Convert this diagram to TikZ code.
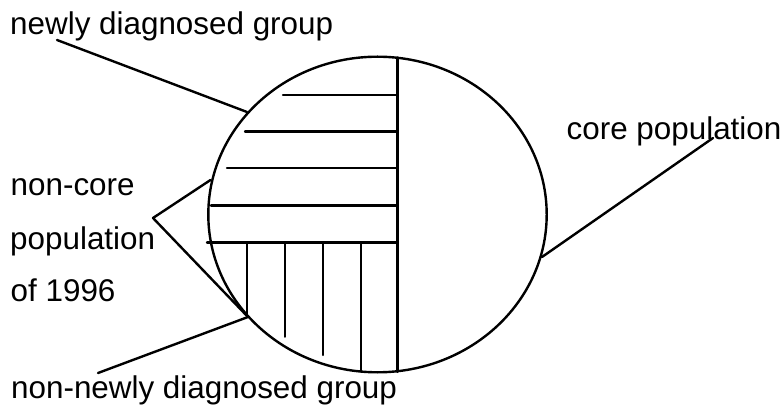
\documentclass[tikz,border=0pt]{standalone}
\usepackage{fontspec}
\setmainfont{Liberation Sans}
\usetikzlibrary{shapes.geometric}
\begin{document}
\begin{tikzpicture}[x=1pt,y=-1pt,
  ln/.style={line width=2.4pt,line cap=round,line join=round},
  lbl/.style={inner sep=0pt,anchor=base west,font=\fontsize{31.4}{37}\selectfont}]
\useasboundingbox (0,0) rectangle (784,419);
% pie
\node[ellipse,draw,line width=2.4pt,minimum width=338.4pt,minimum height=315.6pt,inner sep=0pt] (pie) at (377.5,214.5) {};
\coordinate (top) at (397.5,57.5);
\coordinate (bot) at (397.5,371.8);
\draw[ln] (top) -- (bot);
% horizontal hatching
\foreach \y/\x [count=\i] in {95/283, 131.7/245, 168/227, 205.7/211, 242.7/207}{
  \coordinate (h\i) at (\x,\y);
  \coordinate (hr\i) at (397.5,\y);
  \draw[ln] (h\i) -- (hr\i);
}
% vertical hatching
\foreach \x/\y [count=\i] in {246.7/313.5, 285/336.7, 322.7/355, 360.7/371.5}{
  \coordinate (vt\i) at (\x,242.7);
  \coordinate (vb\i) at (\x,\y);
  \draw[ln] (vt\i) -- (vb\i);
}
% labels
\node[lbl] (newly) at (10,35) {newly diagnosed group};
\node[lbl] (nc1) at (10.5,196) {non-core};
\node[lbl] (nc2) at (10,250) {population};
\node[lbl] (nc3) at (10.5,301.7) {of 1996};
\node[lbl] (core) at (566.5,140) {core population};
\node[lbl] (nonnewly) at (11,398) {non-newly diagnosed group};
% connectors
\coordinate (newlyA) at (57,40);
\coordinate (newlyB) at (247,112);
\draw[ln] (newlyA) -- (newlyB);
\coordinate (coreA) at (542,257);
\coordinate (coreB) at (713,138);
\draw[ln] (coreA) -- (coreB);
\coordinate (ncUp) at (210.5,180);
\coordinate (ncApex) at (153,218);
\coordinate (ncLow) at (248,317);
\draw[ln] (ncUp) -- (ncApex) -- (ncLow);
\coordinate (nnA) at (98,373);
\draw[ln] (nnA) -- (ncLow);
\end{tikzpicture}
\end{document}
